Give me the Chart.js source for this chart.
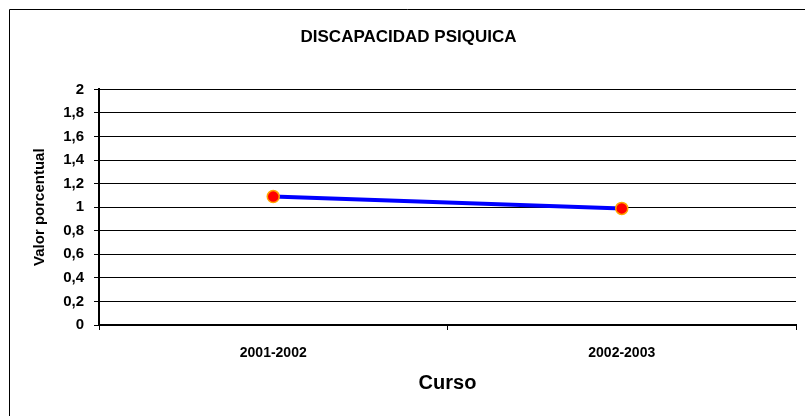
<!DOCTYPE html>
<html>
<head>
<meta charset="utf-8">
<title>Discapacidad psiquica</title>
<script src="https://cdn.jsdelivr.net/npm/chart.js@4"></script>
<style>
  html, body { margin: 0; padding: 0; background: #fff; }
  #caja { width: 805px; height: 416px; position: relative; }
</style>
</head>
<body>
<div id="caja"><canvas id="grafico"></canvas></div>
<script>
const cursos = ['2001-2002', '2002-2003'];
const valores = [1.09, 0.99];
const ejeMin = 0;
const ejeMax = 2;
const paso = 0.2;

const fuente = "'Liberation Sans', Arial, sans-serif";
Chart.defaults.font.family = fuente;
Chart.defaults.color = '#000';

// marco exterior (solo lado izquierdo y superior, como en la imagen)
const marco = {
    id: 'marco',
    afterDraw(chart) {
        const ctx = chart.ctx;
        ctx.save();
        ctx.strokeStyle = '#000';
        ctx.lineWidth = 1;
        ctx.beginPath();
        ctx.moveTo(9.5, chart.height);
        ctx.lineTo(9.5, 9.5);
        ctx.lineTo(chart.width, 9.5);
        ctx.stroke();
        ctx.restore();
    }
};

const ctx = document.getElementById('grafico').getContext('2d');
new Chart(ctx, {
    type: 'line',
    data: {
        labels: cursos,
        datasets: [{
            label: 'Discapacidad psiquica',
            data: valores,
            borderColor: '#0000FF',
            borderWidth: 4,
            pointBackgroundColor: '#FF0000',
            pointBorderColor: '#FFA500',
            pointBorderWidth: 1.5,
            pointRadius: 6,
            tension: 0
        }]
    },
    options: {
        responsive: true,
        maintainAspectRatio: false,
        animation: false,
        layout: { padding: { left: 21, right: 9, top: 0, bottom: 0 } },
        plugins: {
            legend: { display: false },
            tooltip: { enabled: false },
            title: {
                display: true,
                text: 'DISCAPACIDAD PSIQUICA',
                color: '#000',
                font: { size: 17, weight: 'bold' },
                padding: { top: 27, bottom: 42 }
            }
        },
        scales: {
            x: {
                offset: true,
                afterFit: function(scale) { scale.height = 91; },
                grid: {
                    offset: true,
                    drawOnChartArea: true,
                    color: function(c) { return c.index === cursos.length ? '#000' : 'rgba(0,0,0,0)'; },
                    tickColor: '#000',
                    tickLength: 5,
                    lineWidth: 1
                },
                border: { color: '#000', width: 2 },
                ticks: {
                    color: '#000',
                    font: { size: 14, weight: 'bold' },
                    padding: 15,
                    maxRotation: 0
                },
                title: {
                    display: true,
                    text: 'Curso',
                    color: '#000',
                    font: { size: 20, weight: 'bold' },
                    padding: { top: 0, bottom: 21 }
                }
            },
            y: {
                min: ejeMin,
                max: ejeMax,
                afterFit: function(scale) { scale.width = 78; },
                grid: {
                    color: '#000',
                    lineWidth: 1,
                    tickLength: 5,
                    tickColor: '#000'
                },
                border: { color: '#000', width: 2 },
                ticks: {
                    stepSize: paso,
                    color: '#000',
                    padding: 10,
                    font: { size: 15, weight: 'bold' },
                    callback: function(v) {
                        return String(Number(v.toFixed(1))).replace('.', ',');
                    }
                },
                title: {
                    display: true,
                    text: 'Valor porcentual',
                    color: '#000',
                    font: { size: 15, weight: 'bold' },
                    padding: { top: 10, bottom: 0 }
                }
            }
        }
    },
    plugins: [marco]
});
</script>
</body>
</html>
